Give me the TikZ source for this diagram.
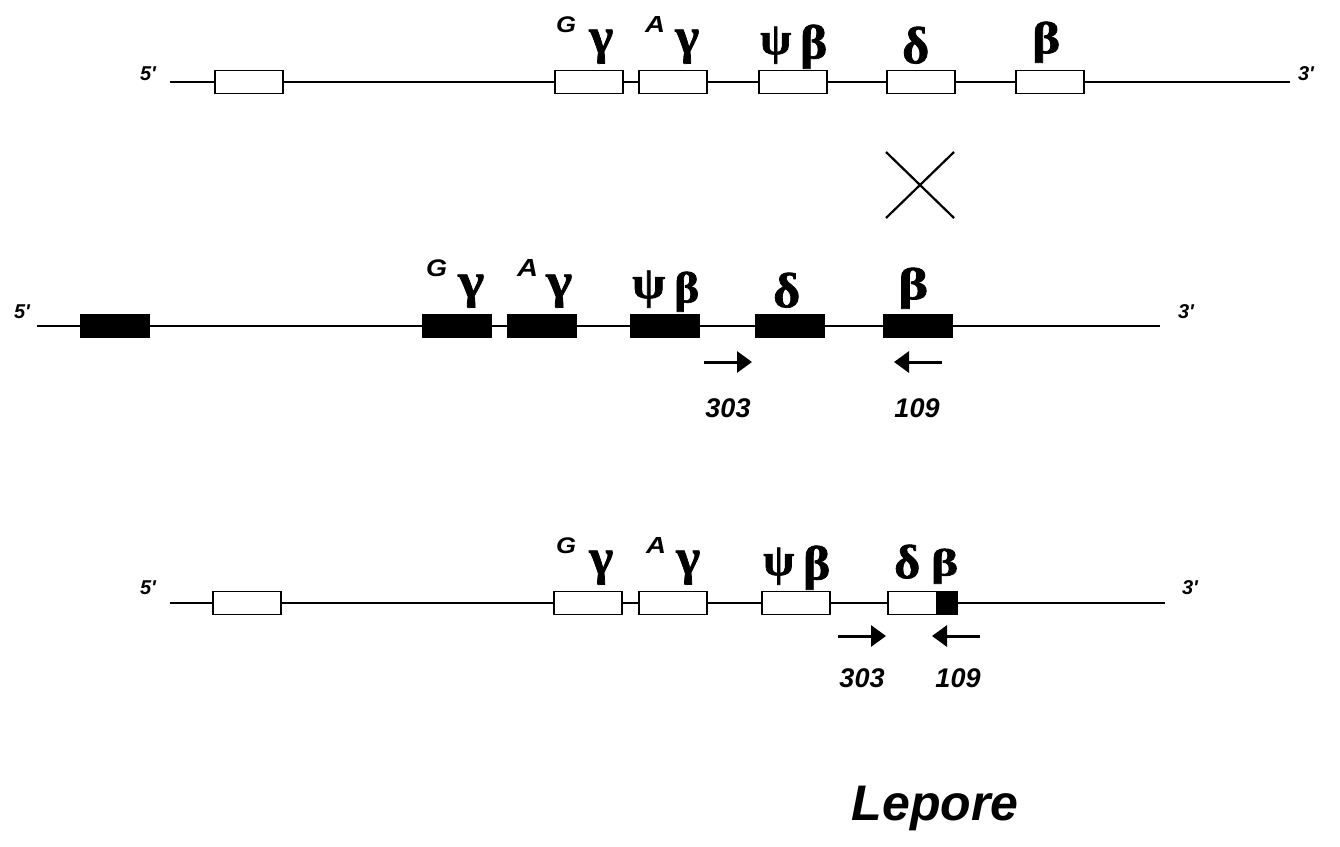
\documentclass[tikz,border=0pt]{standalone}
\usepackage{fontspec}
\usepackage{graphicx}
\setmainfont{Liberation Serif}
\newfontfamily\hv{Liberation Sans}
\newfontfamily\grk[BoldFeatures={FakeBold=1.5}]{Liberation Serif}
\usetikzlibrary{arrows.meta,calc}
\tikzset{
  dna/.style={line width=1.5pt},
  gene/.style={draw, line width=1.6pt, minimum width=68pt, minimum height=23pt, inner sep=0pt, fill=white},
  blk/.style={gene, fill=black},
  endlbl/.style={font=\hv\bfseries\itshape\fontsize{20}{20}\selectfont, inner sep=0pt},
  numlbl/.style={font=\hv\bfseries\itshape\fontsize{27}{27}\selectfont, inner sep=0pt},
  glyph/.style={inner sep=0pt, outer sep=0pt, anchor=south west},
  primer/.style={line width=3pt, -{Triangle[length=15pt,width=21pt]}},
  xline/.style={line width=2.2pt},
}
% glyph resized to a given width and total height
\newcommand{\gk}[3]{\resizebox*{#1}{#2}{\grk\bfseries #3}}
\newcommand{\sk}[3]{\resizebox*{#1}{#2}{\hv\bfseries\itshape #3}}
\begin{document}
\begin{tikzpicture}[x=1pt,y=-1pt]
\useasboundingbox[fill=white] (0,0) rectangle (1340,846);
% ---------- row 1 ----------
\coordinate (a5) at (170,82); \coordinate (a3) at (1290,82);
\draw[dna] (a5) -- (a3);
\node[gene] (a1) at (249,82) {};
\node[gene] (aG) at (589,82) {};
\node[gene] (aA) at (673,82) {};
\node[gene] (aP) at (793,82) {};
\node[gene] (aD) at (921,82) {};
\node[gene] (aB) at (1050,82) {};
\node[endlbl] (a5t) at (148,74) {5'};
\node[endlbl] (a3t) at (1306,74) {3'};
\node[glyph] (aG1) at ($(aG.north west)+(2,-37)$) {\sk{20pt}{16pt}{G}};
\node[glyph] (aG2) at ($(aG.north west)+(35,-6)$) {\gk{24pt}{34pt}{γ}};
\node[glyph] (aA1) at ($(aA.north west)+(7,-37)$) {\sk{20pt}{16pt}{A}};
\node[glyph] (aA2) at ($(aA.north west)+(37,-6)$) {\gk{24pt}{34pt}{γ}};
\node[glyph] (aP1) at ($(aP.north west)+(2,-6)$) {\gk{31pt}{37pt}{ψ}};
\node[glyph] (aP2) at ($(aP.north west)+(42,-1)$) {\gk{27pt}{44pt}{β}};
\node[glyph] (aD1) at ($(aD.north west)+(16,-6)$) {\gk{27pt}{37pt}{δ}};
\node[glyph] (aB1) at ($(aB.north west)+(17,-7)$) {\gk{28pt}{41pt}{β}};
% ---------- cross ----------
\coordinate (x1) at (886,152); \coordinate (x2) at (954,218);
\coordinate (x3) at (886,218); \coordinate (x4) at (954,152);
\draw[xline] (x1) -- (x2);
\draw[xline] (x3) -- (x4);
% ---------- row 2 ----------
\coordinate (b5) at (37,326); \coordinate (b3) at (1160,326);
\draw[dna] (b5) -- (b3);
\node[blk] (b1) at (115,326) {};
\node[blk] (bG) at (457,326) {};
\node[blk] (bA) at (542,326) {};
\node[blk] (bP) at (665,326) {};
\node[blk] (bD) at (790,326) {};
\node[blk] (bB) at (918,326) {};
\node[endlbl] (b5t) at (22,312) {5'};
\node[endlbl] (b3t) at (1186,312) {3'};
\node[glyph] (bG1) at ($(bG.north west)+(4,-37)$) {\sk{21pt}{17pt}{G}};
\node[glyph] (bG2) at ($(bG.north west)+(36,-6)$) {\gk{26pt}{33pt}{γ}};
\node[glyph] (bA1) at ($(bA.north west)+(10,-37)$) {\sk{21pt}{17pt}{A}};
\node[glyph] (bA2) at ($(bA.north west)+(39,-6)$) {\gk{26pt}{33pt}{γ}};
\node[glyph] (bP1) at ($(bP.north west)+(2,-6)$) {\gk{33pt}{37pt}{ψ}};
\node[glyph] (bP2) at ($(bP.north west)+(44,-2)$) {\gk{25pt}{40pt}{β}};
\node[glyph] (bD1) at ($(bD.north west)+(18,-6)$) {\gk{27pt}{35pt}{δ}};
\node[glyph] (bB1) at ($(bB.north west)+(15,-5)$) {\gk{30pt}{41pt}{β}};
\coordinate (p1s) at (704,362); \coordinate (p1e) at (752,362);
\coordinate (p2s) at (942,362); \coordinate (p2e) at (894,362);
\draw[primer] (p1s) -- (p1e);
\draw[primer] (p2s) -- (p2e);
\node[numlbl] (n303a) at (728,408) {303};
\node[numlbl] (n109a) at (917,408) {109};
% ---------- row 3 ----------
\coordinate (c5) at (170,603); \coordinate (c3) at (1165,603);
\draw[dna] (c5) -- (c3);
\node[gene] (c1) at (247,603) {};
\node[gene] (cG) at (588,603) {};
\node[gene] (cA) at (673,603) {};
\node[gene] (cP) at (796,603) {};
\node[gene, minimum width=49pt] (cD) at (912.5,603) {};
\node[blk, minimum width=20pt] (cB) at (947,603) {};
\node[endlbl] (c5t) at (148,588) {5'};
\node[endlbl] (c3t) at (1190,588) {3'};
\node[glyph] (cG1) at ($(cG.north west)+(3,-37)$) {\sk{20pt}{16pt}{G}};
\node[glyph] (cG2) at ($(cG.north west)+(36,-6)$) {\gk{24pt}{34pt}{γ}};
\node[glyph] (cA1) at ($(cA.north west)+(8,-37)$) {\sk{20pt}{16pt}{A}};
\node[glyph] (cA2) at ($(cA.north west)+(38,-6)$) {\gk{24pt}{34pt}{γ}};
\node[glyph] (cP1) at ($(cP.north west)+(2,-6)$) {\gk{31pt}{37pt}{ψ}};
\node[glyph] (cP2) at ($(cP.north west)+(42,-1)$) {\gk{27pt}{44pt}{β}};
\node[glyph] (cD1) at ($(cD.north west)+(7,-12)$) {\gk{26pt}{34pt}{δ}};
\node[glyph] (cB1) at ($(cD.north west)+(44,-7)$) {\gk{27pt}{35pt}{β}};
\coordinate (q1s) at (838,636); \coordinate (q1e) at (886,636);
\coordinate (q2s) at (980,636); \coordinate (q2e) at (932,636);
\draw[primer] (q1s) -- (q1e);
\draw[primer] (q2s) -- (q2e);
\node[numlbl] (n303b) at (862,678) {303};
\node[numlbl] (n109b) at (958,678) {109};
% ---------- title ----------
\node[font=\hv\bfseries\itshape\fontsize{50}{50}\selectfont, inner sep=0pt] (lep) at (935,808) {Lepore};
\end{tikzpicture}
\end{document}
